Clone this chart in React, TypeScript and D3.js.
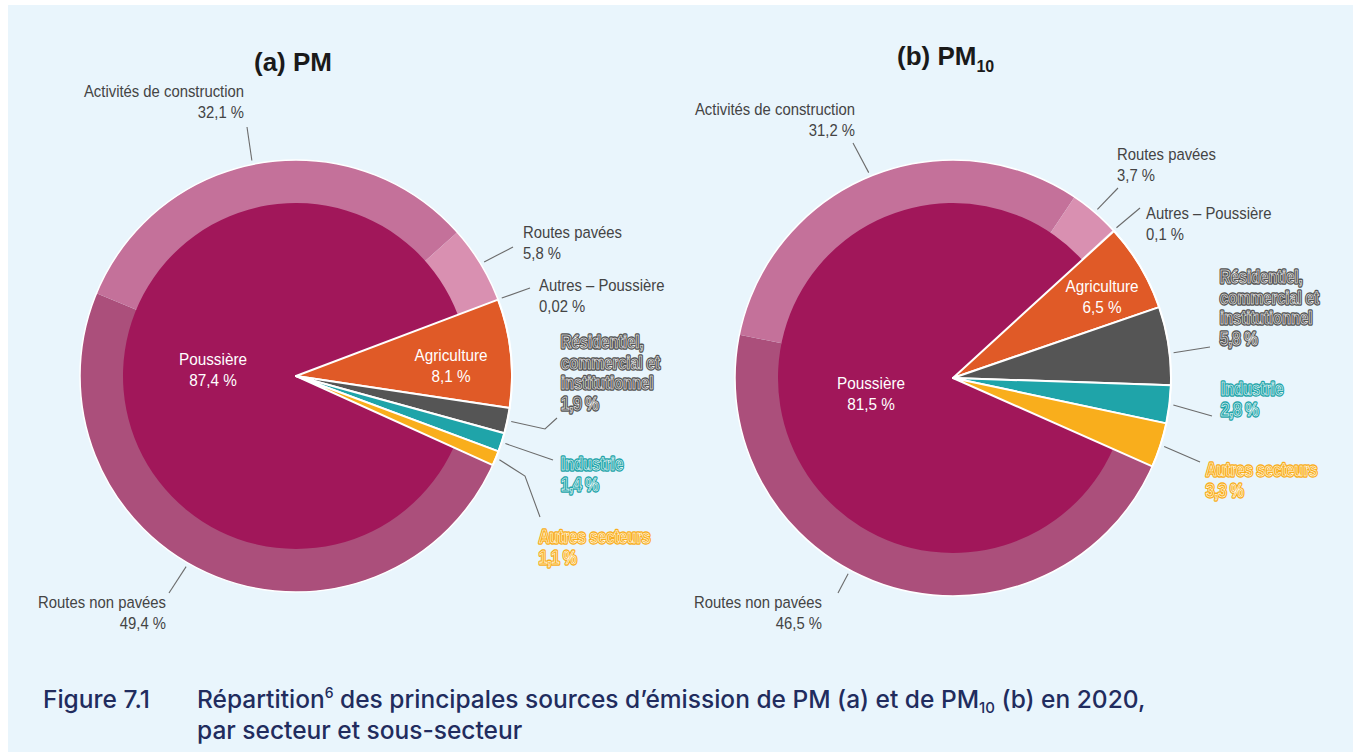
import * as d3 from "d3";

// secteurs (le premier, Poussière, est détaillé en sous-secteurs)
const sectorNames = ["Poussière", "Agriculture", "Résidentiel, commercial et institutionnel", "Industrie", "Autres secteurs"];
const dustNames = ["Routes non pavées", "Activités de construction", "Routes pavées", "Autres – Poussière"];

const pmSectors = [87.4, 8.1, 1.9, 1.4, 1.1];
const pmDust = [49.4, 32.1, 5.8, 0.02];
const pm10Sectors = [81.5, 6.5, 5.8, 2.8, 3.3];
const pm10Dust = [46.5, 31.2, 3.7, 0.1];

const sectorColors = ["#a1175a", "#e05a27", "#555555", "#1fa4a9", "#f9ae1c"];
const dustColors = ["#ab4f7b", "#c4719a", "#d990b1", "#efc0d4"];

const W = 1353;
const H = 752;
const labelFont = "'Liberation Sans', Arial, sans-serif";
const titleFont = "'Liberation Sans', Arial, sans-serif";
const captionFont = "Inter, 'Noto Sans', sans-serif";

const fmt = (v) => String(v).replace(".", ",") + " %";

type Lbl = {
  key: string;
  x: number;
  y: number;
  anchor: "start" | "end" | "middle";
  kind: "plain" | "outline" | "inner";
  lines?: string[];
  leader?: { da?: number; pts: [number, number][] };
};

const pmLabels: Lbl[] = [
  { key: "Poussière", x: 213, y: 365, anchor: "middle", kind: "inner" },
  { key: "Agriculture", x: 451, y: 361, anchor: "middle", kind: "inner" },
  { key: "Activités de construction", x: 244, y: 97, anchor: "end", kind: "plain", leader: { da: -2, pts: [[247, 127]] } },
  { key: "Routes pavées", x: 523, y: 238, anchor: "start", kind: "plain", leader: { pts: [[513, 247]] } },
  { key: "Autres – Poussière", x: 539, y: 291, anchor: "start", kind: "plain", leader: { pts: [[530, 288]] } },
  {
    key: "Résidentiel, commercial et institutionnel", x: 561, y: 348, anchor: "start", kind: "outline",
    lines: ["Résidentiel,", "commercial et", "institutionnel"],
    leader: { pts: [[545, 429], [557, 418]] },
  },
  { key: "Industrie", x: 561, y: 470, anchor: "start", kind: "outline", leader: { pts: [[553, 460]] } },
  { key: "Autres secteurs", x: 539, y: 543, anchor: "start", kind: "outline", leader: { pts: [[525, 476], [540, 517]] } },
  { key: "Routes non pavées", x: 166, y: 608, anchor: "end", kind: "plain", leader: { da: 6.5, pts: [[169, 593]] } },
];

const pm10Labels: Lbl[] = [
  { key: "Poussière", x: 871, y: 389, anchor: "middle", kind: "inner" },
  { key: "Agriculture", x: 1102, y: 292, anchor: "middle", kind: "inner" },
  { key: "Activités de construction", x: 855, y: 115, anchor: "end", kind: "plain", leader: { pts: [[853, 143]] } },
  { key: "Routes pavées", x: 1117, y: 160, anchor: "start", kind: "plain", leader: { pts: [[1118, 188]] } },
  { key: "Autres – Poussière", x: 1146, y: 219, anchor: "start", kind: "plain", leader: { pts: [[1140, 208]] } },
  {
    key: "Résidentiel, commercial et institutionnel", x: 1220, y: 283, anchor: "start", kind: "outline",
    lines: ["Résidentiel,", "commercial et", "institutionnel"],
    leader: { da: 2, pts: [[1210, 347]] },
  },
  { key: "Industrie", x: 1221, y: 395, anchor: "start", kind: "outline", leader: { pts: [[1212, 416]] } },
  { key: "Autres secteurs", x: 1206, y: 476, anchor: "start", kind: "outline", leader: { pts: [[1200, 462]] } },
  { key: "Routes non pavées", x: 822, y: 608, anchor: "end", kind: "plain", leader: { da: 10.5, pts: [[838, 593]] } },
];

function Pie({ cx, cy, R, rIn, start, sectors, dust, labels }) {
  const items = [
    ...sectorNames.slice(1).map((name, i) => ({ name, value: sectors[i + 1], color: sectorColors[i + 1], group: "sector" })),
    ...dustNames.map((name, i) => ({ name, value: dust[i], color: dustColors[i], group: "dust" })),
  ];
  const a0 = (start * Math.PI) / 180;
  const pie = d3
    .pie<any>()
    .sort(null)
    .value((d) => d.value)
    .startAngle(a0)
    .endAngle(a0 + 2 * Math.PI);
  const arcs = pie(items);
  const full = d3.arc<any>().innerRadius(0).outerRadius(R);
  const dustArcs = arcs.filter((a) => a.data.group === "dust");
  const sectorArcs = arcs.filter((a) => a.data.group === "sector");
  const inner = d3.arc<any>()({
    innerRadius: 0,
    outerRadius: rIn,
    startAngle: dustArcs[0].startAngle,
    endAngle: dustArcs[dustArcs.length - 1].endAngle,
  });

  const valueOf = (key) => {
    if (key === sectorNames[0]) return sectors[0];
    const it = items.find((d) => d.name === key);
    return it ? it.value : 0;
  };
  const colorOf = (key) => {
    const i = sectorNames.indexOf(key);
    return i >= 0 ? sectorColors[i] : "#444";
  };

  return (
    <g>
      <g transform={`translate(${cx},${cy})`}>
        {dustArcs.map((a) => (
          <path key={a.data.name} d={full(a)} fill={a.data.color} />
        ))}
        <path d={inner} fill={sectorColors[0]} />
        {sectorArcs.map((a) => (
          <path key={a.data.name} d={full(a)} fill={a.data.color} stroke="#fff" strokeWidth={2} strokeLinejoin="round" />
        ))}
        <circle r={R} fill="none" stroke="#fff" strokeWidth={1.5} />
      </g>
      {labels.map((l) => {
        const lines = [...(l.lines || [l.key]), fmt(valueOf(l.key))];
        let leader = null;
        if (l.leader) {
          const arc = arcs.find((a) => a.data.name === l.key);
          const ang = (arc.startAngle + arc.endAngle) / 2 + (((l.leader.da || 0) * Math.PI) / 180);
          const r0 = R + 4;
          const p0: [number, number] = [cx + Math.sin(ang) * r0, cy - Math.cos(ang) * r0];
          leader = <path d={d3.line()([p0, ...l.leader.pts])} fill="none" stroke="#6b6b6b" strokeWidth={1.1} />;
        }
        const outline = l.kind === "outline";
        const step = outline ? 20.6 : 21;
        const size = outline ? 17.5 : l.kind === "inner" ? 17 : 16.5;
        const sx = outline ? 0.84 : 0.9;
        const weight = outline ? 700 : 400;
        const fill = l.kind === "inner" ? "#fff" : outline ? colorOf(l.key) : "#444";
        const text = (extra) => (
          <text
            textAnchor={l.anchor}
            fontFamily={labelFont}
            fontSize={size}
            fontWeight={weight}
            fill={fill}
            {...extra}
          >
            {lines.map((s, i) => (
              <tspan key={i} x={0} y={i * step}>
                {s}
              </tspan>
            ))}
          </text>
        );
        return (
          <g key={l.key}>
            {leader}
            <g transform={`translate(${l.x},${l.y}) scale(${sx},1)`}>
              {outline && text({ stroke: fill, strokeWidth: 3.4, strokeLinejoin: "round" })}
              {outline ? text({ stroke: "#fff", strokeWidth: 0.6 }) : text({})}
            </g>
          </g>
        );
      })}
    </g>
  );
}

export default function App() {
  return (
    <svg
      width={W}
      height={H}
      viewBox={`0 0 ${W} ${H}`}
      style={{ position: "absolute", left: 0, top: 0, display: "block", background: "#fff" }}
    >
      <rect x={8} y={5} width={W - 8} height={H - 5} fill="#e9f5fc" />

      <text x={293} y={71} textAnchor="middle" fontFamily={titleFont} fontWeight={700} fontSize={26} fill="#1a1a1a">
        (a) PM
      </text>
      <text x={897} y={65} fontFamily={titleFont} fontWeight={700} fontSize={26} fill="#1a1a1a">
        (b) PM
        <tspan fontSize={16} dy={7}>
          10
        </tspan>
      </text>

      <Pie cx={296} cy={376} R={216} rIn={173} start={69.3} sectors={pmSectors} dust={pmDust} labels={pmLabels} />
      <Pie cx={953} cy={378} R={218} rIn={175} start={47.6} sectors={pm10Sectors} dust={pm10Dust} labels={pm10Labels} />

      <g fontFamily={captionFont} fontWeight={500} fontSize={24.5} fill="#212c5e">
        <text x={43} y={708}>
          Figure 7.1
        </text>
        <text x={197} y={708}>
          Répartition
          <tspan fontSize={14} dy={-10}>
            6
          </tspan>
          <tspan dy={10}> des principales sources d’émission de PM (a) et de PM</tspan>
          <tspan fontSize={15} dy={5}>
            10
          </tspan>
          <tspan dy={-5}> (b) en 2020,</tspan>
        </text>
        <text x={197} y={739}>
          par secteur et sous-secteur
        </text>
      </g>
    </svg>
  );
}
